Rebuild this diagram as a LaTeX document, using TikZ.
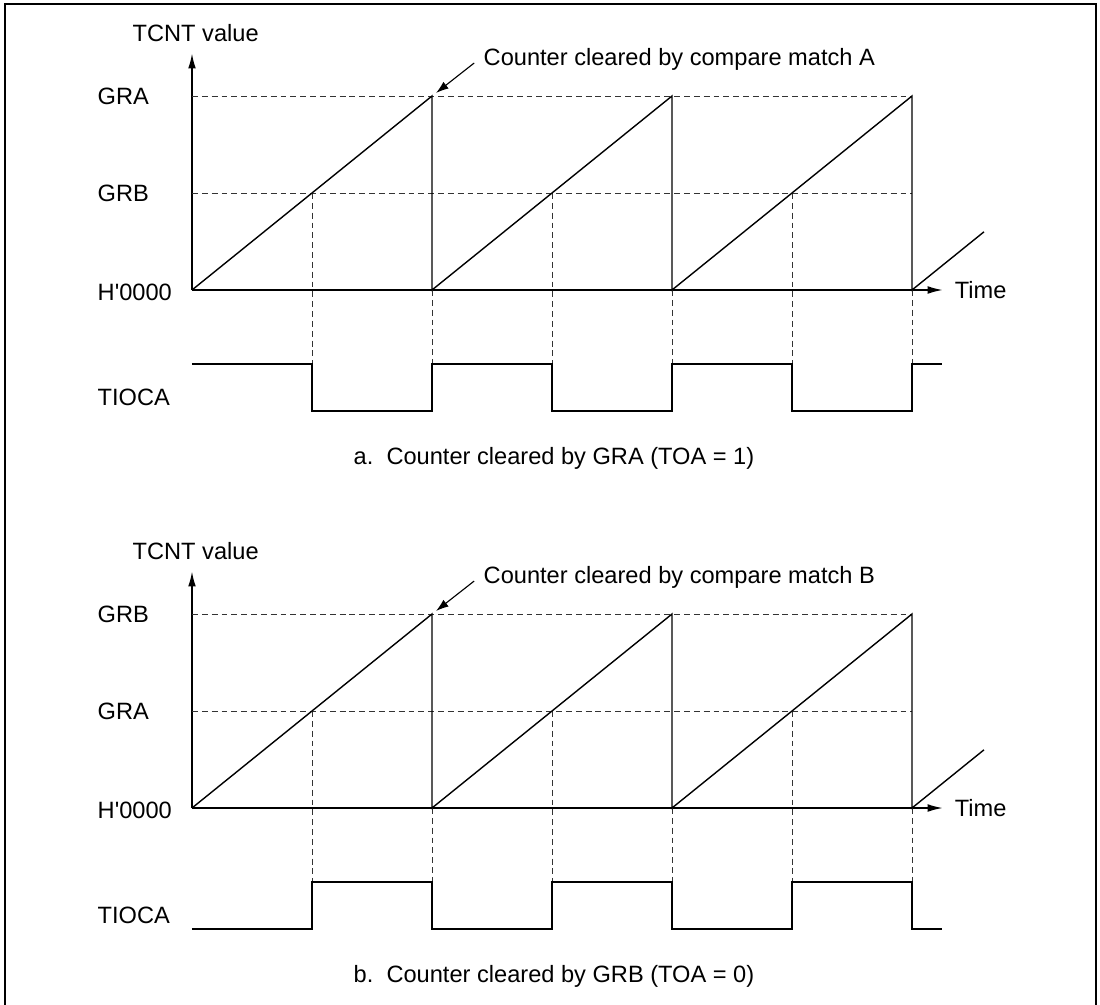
\documentclass[tikz,border=0pt]{standalone}
\usepackage{fontspec}
\setmainfont{Liberation Sans}
\usepackage{tikz}
\usetikzlibrary{positioning,arrows.meta}

\begin{document}
\begin{tikzpicture}[>={Latex[length=11pt,width=5.5pt]}, line width=1pt,
    font=\fontsize{16.8}{20}\selectfont,
    grid/.style={dash pattern=on 4.2pt off 2.8pt, line width=0.7pt, black!80},
    sig/.style={line width=1.4pt},
    lbl/.style={anchor=west, inner sep=0pt}]
    \useasboundingbox (-4.8,-17.85) rectangle (22.7,7.25);

    % Frame
    \draw[line width=1.3pt] (-4.675,-17.9) |- (22.6,7.15) -- (22.6,-17.9);

    % ---- a. cleared by GRA ----
    % Labels
    \node[lbl] (tcntA) at (-1.5,6.425) {TCNT value};
    \node[lbl] (graA) at (-2.375,4.85) {GRA};
    \node[lbl] (grbA) at (-2.375,2.425) {GRB};
    \node[lbl] (zeroA) at (-2.375,-0.05) {H\textquotesingle 0000};
    \node[lbl] (tiocaA) at (-2.375,-2.675) {TIOCA};

    % Axes
    \coordinate (oA) at (0,0);
    \coordinate (yA) at (0,5.925);
    \coordinate (xA) at (18.78,0);
    \draw[sig,->] (oA) -- (yA);
    \draw[sig,->] (oA) -- (xA);
    \node[lbl, right=0.275cm of xA] (timeA) {Time};

    % Compare levels and edges
    \draw[grid] (0,4.85) -- (18,4.85) (0,2.425) -- (18,2.425);
    \draw[grid] (3,2.425) -- (3,-1.85) (9,2.425) -- (9,-1.85) (15,2.425) -- (15,-1.85);
    \draw[grid] (6,0) -- (6,-1.85) (12,0) -- (12,-1.85) (18,0) -- (18,-1.85);

    % Counter
    \draw (oA) -- (6,4.85) -- (6,0) -- (12,4.85) -- (12,0) -- (18,4.85) -- (18,0) -- (19.8,1.455);

    % Output
    \draw[sig] (0,-1.85) -- (3,-1.85) -- (3,-3.025) -- (6,-3.025) -- (6,-1.85) -- (9,-1.85)
        -- (9,-3.025) -- (12,-3.025) -- (12,-1.85) -- (15,-1.85) -- (15,-3.025) -- (18,-3.025)
        -- (18,-1.85) -- (18.75,-1.85);

    % Note
    \node[lbl] (noteA) at (7.275,5.775) {Counter cleared by compare match A};
    \coordinate (peakA) at (6.1,4.925);
    \draw[line width=0.8pt, -{Latex[length=9pt,width=6pt]}] ([shift={(-0.22,-0.1)}]noteA.west) -- (peakA);

    \node[inner sep=0pt] (capA) at (9.05,-4.2) {a.\ \ Counter cleared by GRA (TOA = 1)};

    % ---- b. cleared by GRB ----
    \begin{scope}[yshift=-12.95cm]
    % Labels
    \node[lbl] (tcntB) at (-1.5,6.425) {TCNT value};
    \node[lbl] (grbB) at (-2.375,4.85) {GRB};
    \node[lbl] (graB) at (-2.375,2.425) {GRA};
    \node[lbl] (zeroB) at (-2.375,-0.05) {H\textquotesingle 0000};
    \node[lbl] (tiocaB) at (-2.375,-2.675) {TIOCA};

    % Axes
    \coordinate (oB) at (0,0);
    \coordinate (yB) at (0,5.925);
    \coordinate (xB) at (18.78,0);
    \draw[sig,->] (oB) -- (yB);
    \draw[sig,->] (oB) -- (xB);
    \node[lbl, right=0.275cm of xB] (timeB) {Time};

    % Compare levels and edges
    \draw[grid] (0,4.85) -- (18,4.85) (0,2.425) -- (18,2.425);
    \draw[grid] (3,2.425) -- (3,-1.85) (9,2.425) -- (9,-1.85) (15,2.425) -- (15,-1.85);
    \draw[grid] (6,0) -- (6,-1.85) (12,0) -- (12,-1.85) (18,0) -- (18,-1.85);

    % Counter
    \draw (oB) -- (6,4.85) -- (6,0) -- (12,4.85) -- (12,0) -- (18,4.85) -- (18,0) -- (19.8,1.455);

    % Output
    \draw[sig] (0,-3.025) -- (3,-3.025) -- (3,-1.85) -- (6,-1.85) -- (6,-3.025) -- (9,-3.025)
        -- (9,-1.85) -- (12,-1.85) -- (12,-3.025) -- (15,-3.025) -- (15,-1.85) -- (18,-1.85)
        -- (18,-3.025) -- (18.75,-3.025);

    % Note
    \node[lbl] (noteB) at (7.275,5.775) {Counter cleared by compare match B};
    \coordinate (peakB) at (6.1,4.925);
    \draw[line width=0.8pt, -{Latex[length=9pt,width=6pt]}] ([shift={(-0.22,-0.1)}]noteB.west) -- (peakB);

    \node[inner sep=0pt] (capB) at (9.05,-4.2) {b.\ \ Counter cleared by GRB (TOA = 0)};
    \end{scope}
\end{tikzpicture}
\end{document}
